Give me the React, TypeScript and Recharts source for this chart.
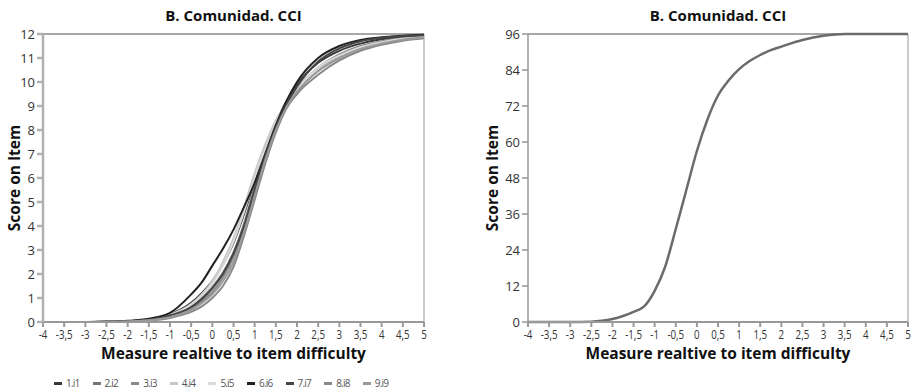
import React from "react";
import { LineChart, Line, XAxis, YAxis, Legend, ReferenceLine, Label } from "recharts";

// left panel: expected score curves of the 9 items (0..12)
const X_ITEMS = [-4, -3.5, -3, -2.5, -2, -1.5, -1, -0.5, -0.25, 0, 0.25, 0.5, 0.75, 1, 1.25, 1.5, 1.75, 2, 2.5, 3, 3.5, 4, 4.5, 5];
const I1 = [0, 0, 0, 0.01, 0.03, 0.1, 0.32, 0.8, 1.2, 1.7, 2.4, 3.3, 4.5, 5.9, 7.2, 8.3, 9.2, 9.9, 10.8, 11.3, 11.6, 11.78, 11.88, 11.94];
const I2 = [0, 0, 0, 0.01, 0.03, 0.08, 0.26, 0.65, 1.0, 1.45, 2.05, 2.9, 4.1, 5.6, 7.0, 8.2, 9.0, 9.6, 10.5, 11.05, 11.4, 11.62, 11.77, 11.86];
const I3 = [0, 0, 0, 0.01, 0.02, 0.07, 0.22, 0.55, 0.85, 1.25, 1.85, 2.7, 3.9, 5.4, 6.9, 8.1, 9.0, 9.7, 10.6, 11.15, 11.5, 11.7, 11.82, 11.9];
const I4 = [0, 0, 0, 0.01, 0.03, 0.09, 0.3, 0.75, 1.15, 1.7, 2.5, 3.5, 4.8, 6.2, 7.4, 8.4, 9.1, 9.7, 10.5, 11.0, 11.35, 11.58, 11.74, 11.84];
const I5 = [0, 0, 0, 0.01, 0.03, 0.09, 0.28, 0.72, 1.1, 1.6, 2.35, 3.35, 4.6, 6.0, 7.2, 8.3, 9.1, 9.7, 10.6, 11.1, 11.45, 11.66, 11.8, 11.88];
const I6 = [0, 0, 0, 0.02, 0.05, 0.14, 0.38, 1.15, 1.65, 2.35, 3.05, 3.85, 4.8, 5.8, 7.0, 8.2, 9.2, 10.0, 11.0, 11.5, 11.75, 11.86, 11.93, 11.97];
const I7 = [0, 0, 0, 0.01, 0.03, 0.09, 0.27, 0.62, 0.95, 1.4, 2.0, 2.85, 4.0, 5.5, 6.9, 8.1, 9.05, 9.8, 10.85, 11.4, 11.7, 11.84, 11.91, 11.95];
const I8 = [0, 0, 0, 0.01, 0.02, 0.06, 0.17, 0.42, 0.65, 1.0, 1.5, 2.3, 3.6, 5.1, 6.6, 7.9, 8.9, 9.5, 10.3, 10.9, 11.3, 11.55, 11.72, 11.82];
const I9 = [0, 0, 0, 0.01, 0.02, 0.07, 0.2, 0.5, 0.78, 1.15, 1.7, 2.5, 3.75, 5.25, 6.75, 8.0, 8.95, 9.6, 10.45, 11.0, 11.38, 11.6, 11.76, 11.86];

const ITEM_NAMES = ["1.i1", "2.i2", "3.i3", "4.i4", "5.i5", "6.i6", "7.i7", "8.i8", "9.i9"];
const ITEM_VALUES = [I1, I2, I3, I4, I5, I6, I7, I8, I9];
const ITEM_COLORS = ["#3a3a3a", "#767676", "#8a8a8a", "#c8c8c8", "#dadada", "#222222", "#454545", "#888888", "#9a9a9a"];

// right panel: test characteristic curve (0..96)
const X_TEST = [-4, -3.5, -3, -2.5, -2.25, -2, -1.75, -1.5, -1.25, -1, -0.75, -0.5, -0.25, 0, 0.25, 0.5, 0.75, 1, 1.25, 1.5, 1.75, 2, 2.5, 3, 3.5, 4, 4.5, 5];
const CCI = [0, 0, 0, 0.1, 0.4, 1, 2, 3.4, 5.2, 10.4, 18.5, 31, 44, 57, 67.5, 75.5, 80.5, 84.3, 87, 89, 90.6, 91.8, 94, 95.4, 96, 96, 96, 96];

const X_TICKS = [-4, -3.5, -3, -2.5, -2, -1.5, -1, -0.5, 0, 0.5, 1, 1.5, 2, 2.5, 3, 3.5, 4, 4.5, 5];
const Y_TICKS_ITEMS = [0, 1, 2, 3, 4, 5, 6, 7, 8, 9, 10, 11, 12];
const Y_TICKS_TEST = [0, 12, 24, 36, 48, 60, 72, 84, 96];

const TITLE = "B. Comunidad. CCI";
const X_LABEL = "Measure realtive to item difficulty";
const Y_LABEL = "Score on Item";

const itemData = X_ITEMS.map((x, i) => {
  const row: Record<string, number> = { x };
  ITEM_NAMES.forEach((n, k) => (row[n] = ITEM_VALUES[k][i]));
  return row;
});
const testData = X_TEST.map((x, i) => ({ x, score: CCI[i] }));

const FONT = "'Open Sans', 'Noto Sans', sans-serif";

// narrow tick labels, like the condensed face of the original
const XTick = ({ x, y, payload }: any) => (
  <text transform={`translate(${x},${y + 10}) scale(0.78,1)`} textAnchor="middle" fontSize={12.5} fill="#333">
    {String(payload.value).replace(".", ",")}
  </text>
);

const YTick = ({ x, y, payload }: any) => (
  <text x={x} y={y + 5} textAnchor="end" fontSize={13} fill="#333">
    {payload.value}
  </text>
);

const ItemLegend = () => (
  <div style={{ display: "flex", height: 16, alignItems: "center" }}>
    {ITEM_NAMES.map((n, k) => (
      <div key={n} style={{ width: 38.6, display: "flex", alignItems: "center", fontSize: 10, color: "#555", letterSpacing: -0.8 }}>
        <span style={{ width: 8, height: 3, background: ITEM_COLORS[k], marginRight: 4, display: "inline-block" }} />
        {n}
      </div>
    ))}
  </div>
);

const titleStyle = (center: number): React.CSSProperties => ({
  position: "absolute",
  top: 5,
  left: center - 100,
  width: 200,
  textAlign: "center",
  fontSize: 15,
  fontWeight: 700,
  color: "#111",
});

const axisLabelStyle = { fontSize: 15.5, fontWeight: 700, fill: "#111" };

export default function App() {
  return (
    <div style={{ position: "absolute", left: 0, top: 0, width: 917, height: 389, background: "#fff", fontFamily: FONT }}>
      <div style={titleStyle(233.5)}>{TITLE}</div>
      <div style={titleStyle(718)}>{TITLE}</div>

      <div style={{ position: "absolute", left: 0, top: 0 }}>
        <LineChart width={458} height={389} data={itemData} margin={{ top: 34, right: 34, left: 0, bottom: 0 }}>
          <XAxis
            dataKey="x"
            type="number"
            domain={[-4, 5]}
            ticks={X_TICKS}
            interval={0}
            height={51}
            tick={<XTick />}
            tickSize={5}
            stroke="#999"
            strokeWidth={2}
          >
            <Label value={X_LABEL} position="insideTop" offset={26} style={axisLabelStyle} />
          </XAxis>
          <YAxis
            type="number"
            domain={[0, 12]}
            ticks={Y_TICKS_ITEMS}
            interval={0}
            width={43}
            tick={<YTick />}
            tickSize={6}
            stroke="#b0b0b0"
            strokeWidth={2.5}
          >
            <Label value={Y_LABEL} angle={-90} position="center" dx={-7.5} style={{ ...axisLabelStyle, textAnchor: "middle" }} />
          </YAxis>
          <ReferenceLine y={12} stroke="#888" strokeWidth={1.5} />
          <ReferenceLine x={5} stroke="#999" strokeWidth={1} />
          {ITEM_NAMES.map((n, k) => (
            <Line key={n} type="monotone" dataKey={n} stroke={ITEM_COLORS[k]} strokeWidth={2} dot={false} isAnimationActive={false} />
          ))}
          <Legend verticalAlign="bottom" content={<ItemLegend />} wrapperStyle={{ left: 54, bottom: -2, width: 360 }} />
        </LineChart>
      </div>

      <div style={{ position: "absolute", left: 458, top: 0 }}>
        <LineChart width={459} height={389} data={testData} margin={{ top: 34, right: 9, left: 0, bottom: 16 }}>
          <XAxis
            dataKey="x"
            type="number"
            domain={[-4, 5]}
            ticks={X_TICKS}
            interval={0}
            height={51}
            tick={<XTick />}
            tickSize={5}
            stroke="#999"
            strokeWidth={2}
          >
            <Label value={X_LABEL} position="insideTop" offset={26} style={axisLabelStyle} />
          </XAxis>
          <YAxis
            type="number"
            domain={[0, 96]}
            ticks={Y_TICKS_TEST}
            interval={0}
            width={70}
            tick={<YTick />}
            tickSize={6}
            stroke="#999"
            strokeWidth={1.5}
          >
            <Label value={Y_LABEL} angle={-90} position="center" dx={-1} style={{ ...axisLabelStyle, textAnchor: "middle" }} />
          </YAxis>
          <ReferenceLine y={96} stroke="#888" strokeWidth={1.5} />
          <ReferenceLine x={5} stroke="#999" strokeWidth={1} />
          <Line type="monotone" dataKey="score" stroke="#6b6b6b" strokeWidth={2.5} dot={false} isAnimationActive={false} />
        </LineChart>
      </div>
    </div>
  );
}
